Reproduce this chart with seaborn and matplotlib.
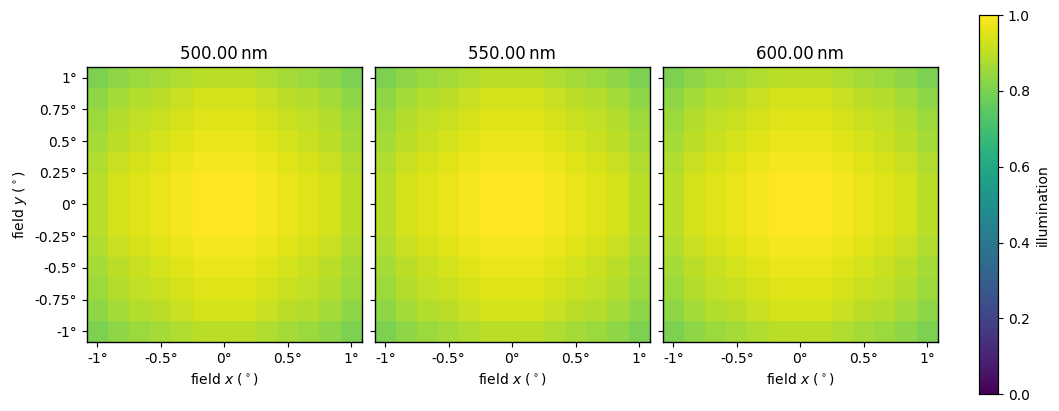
#!/usr/bin/env python3
"""Relative illumination maps over the field, one panel per wavelength."""

import matplotlib

matplotlib.use("Agg")
import matplotlib.pyplot as plt
import numpy as np
import seaborn as sns

WAVELENGTHS_NM = [500.0, 550.0, 600.0]

# field grid: 13 x 13 samples, -1 deg .. 1 deg in 1/6 deg steps
FIELD_STEP = 1.0 / 6.0
FIELD_X = [-1.0, -5 / 6, -4 / 6, -3 / 6, -2 / 6, -1 / 6, 0.0,
           1 / 6, 2 / 6, 3 / 6, 4 / 6, 5 / 6, 1.0]
FIELD_Y = list(reversed(FIELD_X))  # top row is +1 deg

# relative illumination (rows: y from +1 to -1 deg)
ILLUMINATION = [
    [0.801, 0.832, 0.850, 0.864, 0.882, 0.895, 0.895, 0.895, 0.882, 0.864, 0.850, 0.832, 0.801],
    [0.832, 0.865, 0.884, 0.897, 0.916, 0.930, 0.930, 0.930, 0.916, 0.897, 0.884, 0.865, 0.832],
    [0.850, 0.884, 0.903, 0.917, 0.936, 0.950, 0.950, 0.950, 0.936, 0.917, 0.903, 0.884, 0.850],
    [0.864, 0.897, 0.917, 0.931, 0.951, 0.965, 0.965, 0.965, 0.951, 0.931, 0.917, 0.897, 0.864],
    [0.882, 0.916, 0.936, 0.951, 0.970, 0.985, 0.985, 0.985, 0.970, 0.951, 0.936, 0.916, 0.882],
    [0.895, 0.930, 0.950, 0.965, 0.985, 1.000, 1.000, 1.000, 0.985, 0.965, 0.950, 0.930, 0.895],
    [0.895, 0.930, 0.950, 0.965, 0.985, 1.000, 1.000, 1.000, 0.985, 0.965, 0.950, 0.930, 0.895],
    [0.895, 0.930, 0.950, 0.965, 0.985, 1.000, 1.000, 1.000, 0.985, 0.965, 0.950, 0.930, 0.895],
    [0.882, 0.916, 0.936, 0.951, 0.970, 0.985, 0.985, 0.985, 0.970, 0.951, 0.936, 0.916, 0.882],
    [0.864, 0.897, 0.917, 0.931, 0.951, 0.965, 0.965, 0.965, 0.951, 0.931, 0.917, 0.897, 0.864],
    [0.850, 0.884, 0.903, 0.917, 0.936, 0.950, 0.950, 0.950, 0.936, 0.917, 0.903, 0.884, 0.850],
    [0.832, 0.865, 0.884, 0.897, 0.916, 0.930, 0.930, 0.930, 0.916, 0.897, 0.884, 0.865, 0.832],
    [0.801, 0.832, 0.850, 0.864, 0.882, 0.895, 0.895, 0.895, 0.882, 0.864, 0.850, 0.832, 0.801],
]

X_TICKS = [-1.0, -0.5, 0.0, 0.5, 1.0]
X_TICK_LABELS = ["-1°", "-0.5°", "0°", "0.5°", "1°"]
Y_TICKS = [1.0, 0.75, 0.5, 0.25, 0.0, -0.25, -0.5, -0.75, -1.0]
Y_TICK_LABELS = ["1°", "0.75°", "0.5°", "0.25°", "0°", "-0.25°", "-0.5°", "-0.75°", "-1°"]


def field_to_cell(value, first):
    """Map a field angle to heatmap cell coordinates."""
    return (value - first) / FIELD_STEP + 0.5


def main():
    fig = plt.figure(figsize=(10.59, 4.11), dpi=100)
    lefts = [0.0819, 0.3538, 0.6258]
    axes = [fig.add_axes([left, 0.168, 0.2597, 0.669]) for left in lefts]
    cax = fig.add_axes([0.9245, 0.041, 0.018, 0.922])

    data = np.array(ILLUMINATION)
    for index, (ax, wl) in enumerate(zip(axes, WAVELENGTHS_NM)):
        sns.heatmap(
            data,
            cmap="viridis",
            vmin=0.0,
            vmax=1.0,
            ax=ax,
            cbar=index == 0,
            cbar_ax=cax if index == 0 else None,
            cbar_kws={"label": "illumination"},
            xticklabels=False,
            yticklabels=False,
            linewidths=0,
        )
        for spine in ax.spines.values():
            spine.set_visible(True)
            spine.set_linewidth(1.0)
            spine.set_color("black")

        ax.set_xticks([field_to_cell(v, FIELD_X[0]) for v in X_TICKS])
        ax.set_xticklabels(X_TICK_LABELS, rotation=0, fontsize=10)
        ax.set_yticks([field_to_cell(-v, -FIELD_Y[0]) for v in Y_TICKS])
        if index == 0:
            ax.set_yticklabels(Y_TICK_LABELS, rotation=0, fontsize=10)
            ax.set_ylabel(r"field $y$ ($^\circ$)", fontsize=10)
        else:
            ax.set_yticklabels([])
        ax.tick_params(axis="both", length=3.5, width=0.8, left=True, bottom=True)
        ax.set_xlabel(r"field $x$ ($^\circ$)", fontsize=10)
        ax.set_title(f"{wl:.2f}\u2009nm", fontsize=12)

    cax.set_yticks([0.0, 0.2, 0.4, 0.6, 0.8, 1.0])
    cax.set_yticklabels(["0.0", "0.2", "0.4", "0.6", "0.8", "1.0"])
    cax.tick_params(labelsize=10, length=3.5, width=0.8)
    cax.yaxis.label.set_size(10)
    for spine in cax.spines.values():
        spine.set_visible(True)
        spine.set_linewidth(0.8)

    fig.savefig("out.png", dpi=100)
    plt.close(fig)


if __name__ == "__main__":
    main()
